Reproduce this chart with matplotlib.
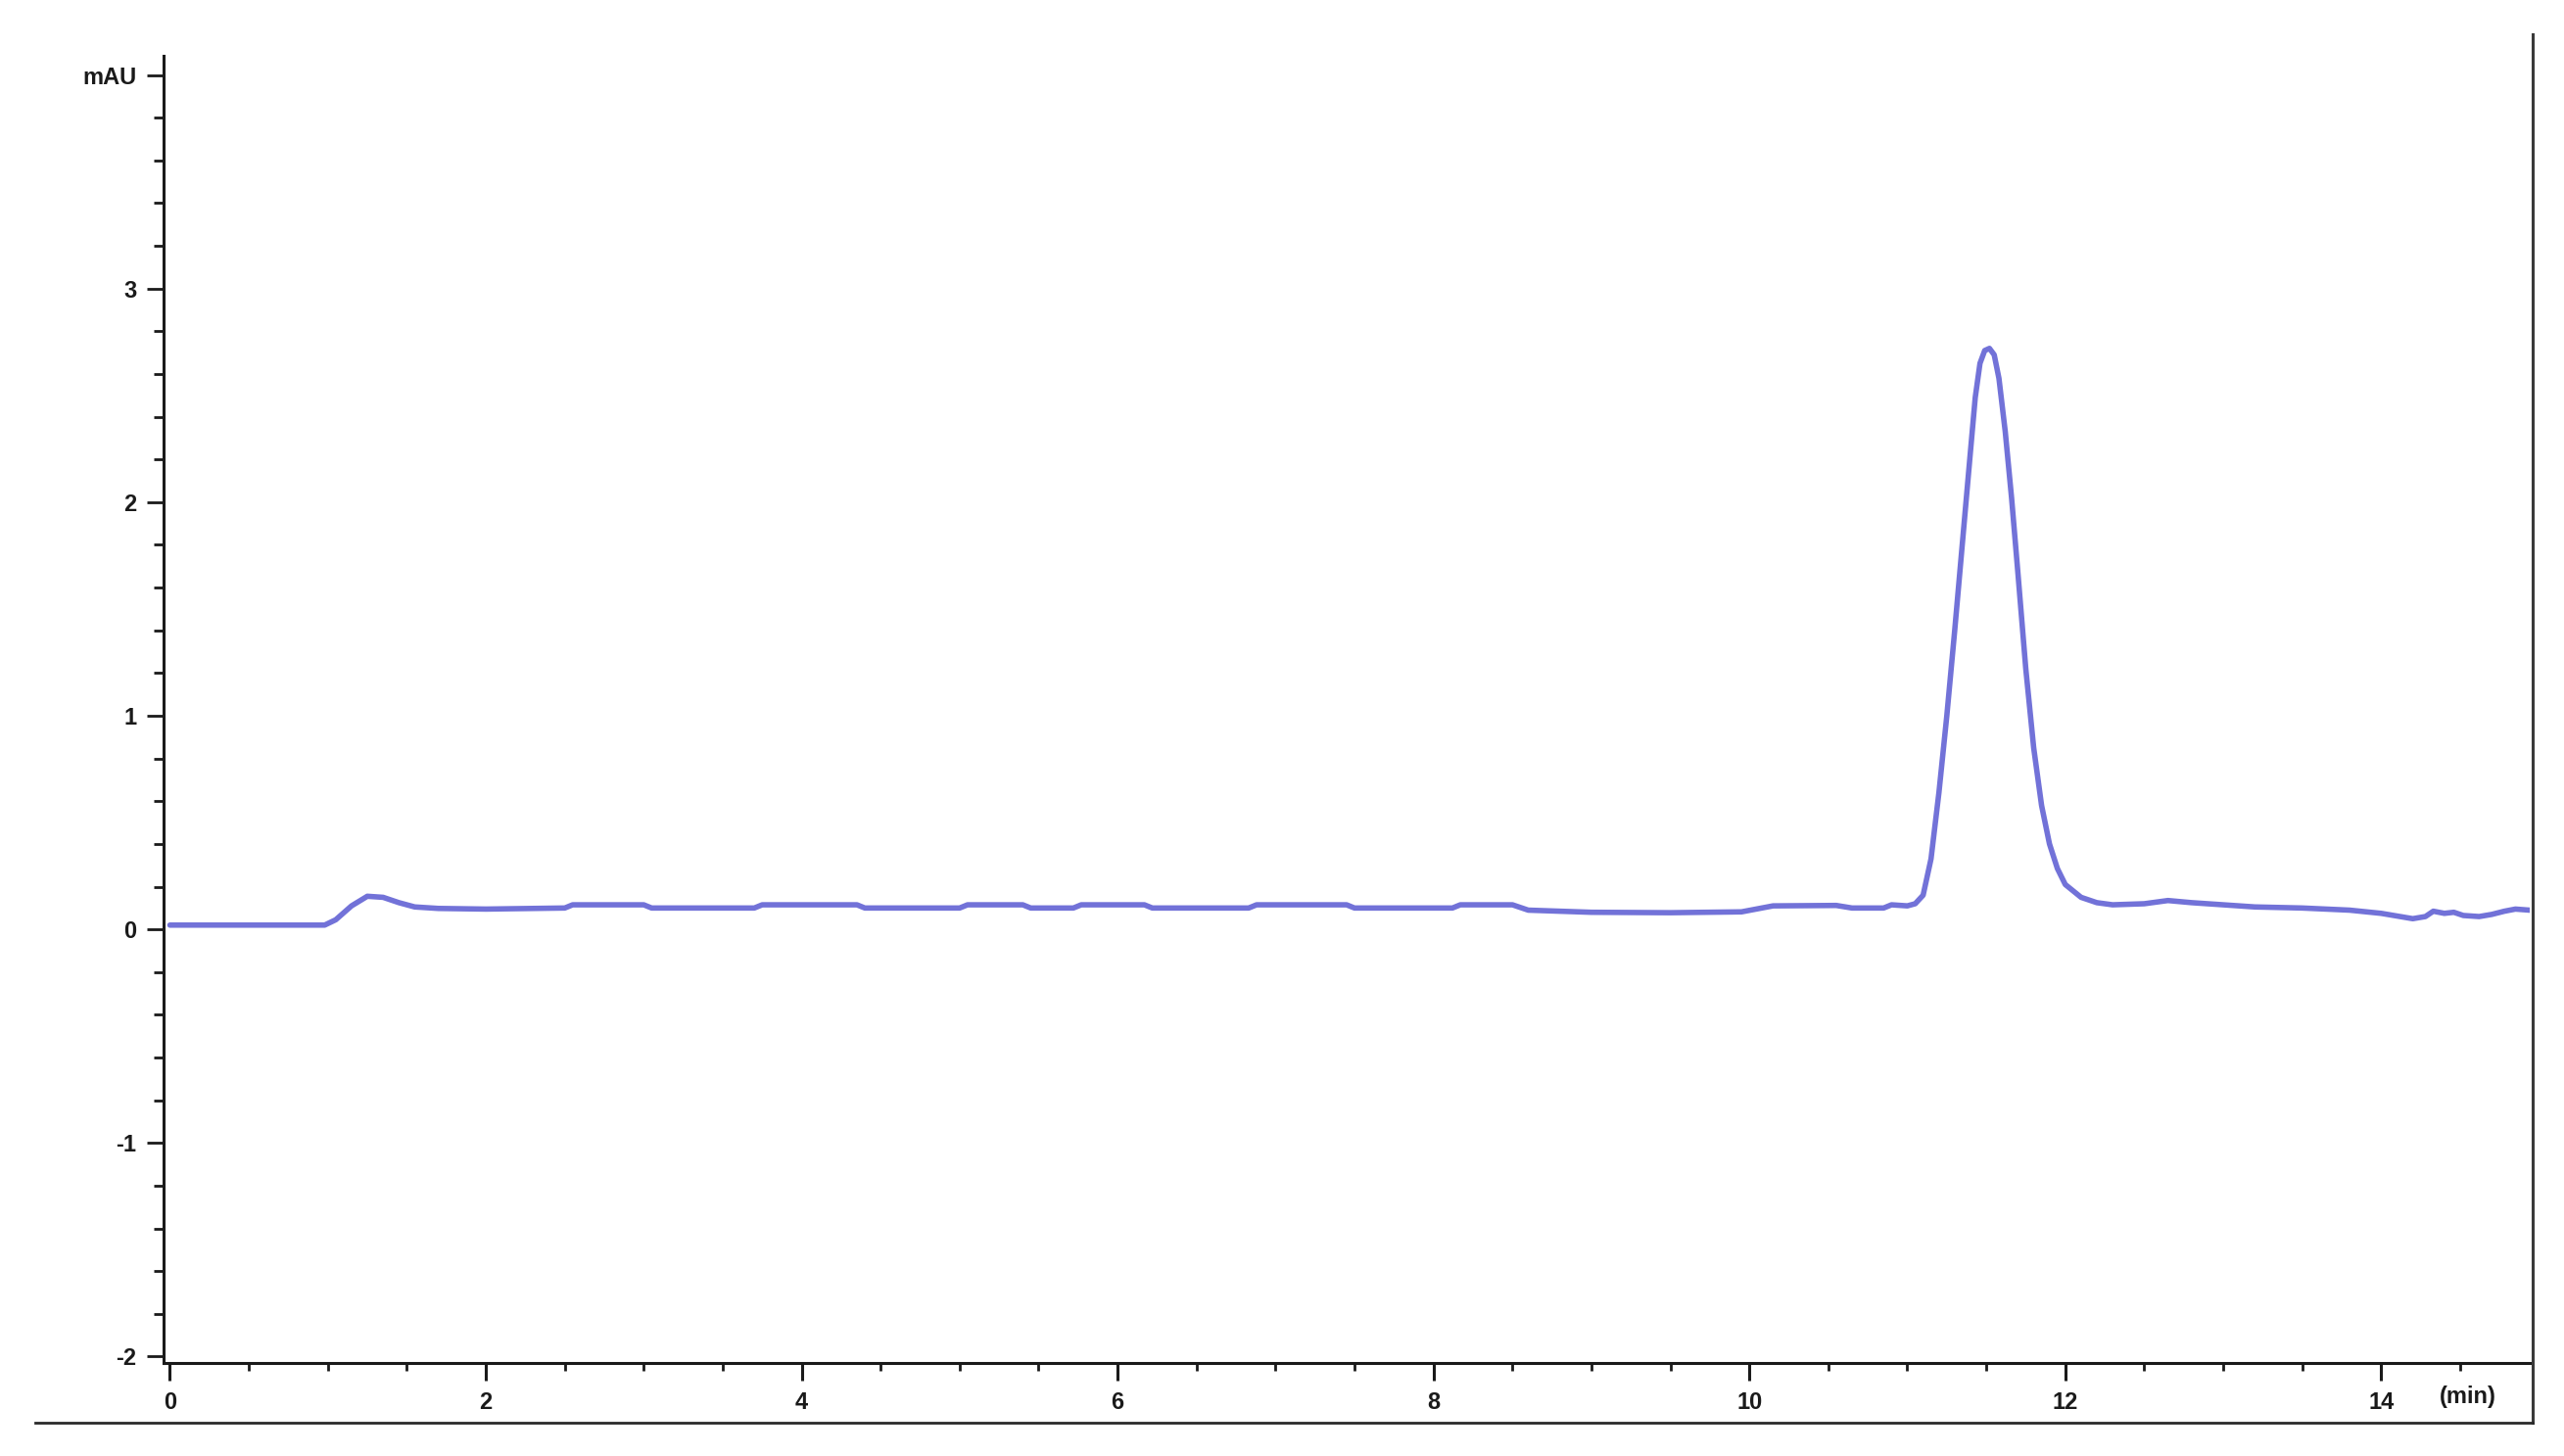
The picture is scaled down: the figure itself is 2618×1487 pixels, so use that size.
import matplotlib
matplotlib.use("Agg")
import matplotlib.pyplot as plt
from matplotlib.lines import Line2D
from matplotlib.ticker import MultipleLocator

# chromatogram trace (time in min, signal in mAU)
time_min = [0.00, 0.50, 0.98, 1.05, 1.15, 1.25, 1.35, 1.45, 1.55, 1.70, 2.00, 2.50,
            2.55, 3.00, 3.05, 3.70, 3.75, 4.35, 4.40, 5.00, 5.05, 5.40, 5.45, 5.72,
            5.77, 6.17, 6.22, 6.83, 6.88, 7.45, 7.50, 8.12, 8.17, 8.50, 8.60, 9.00,
            9.50, 9.95, 10.15, 10.55, 10.65, 10.85, 10.90, 11.00, 11.05, 11.10, 11.15,
            11.20, 11.25, 11.30, 11.35, 11.40, 11.43, 11.46, 11.49, 11.52, 11.55, 11.58,
            11.62, 11.66, 11.70, 11.75, 11.80, 11.85, 11.90, 11.95, 12.00, 12.10, 12.20,
            12.30, 12.50, 12.65, 12.80, 13.00, 13.20, 13.50, 13.80, 14.00, 14.20,
            14.28, 14.33, 14.40, 14.46, 14.52, 14.62, 14.70, 14.78, 14.85, 14.94]
signal_mau = [0.020, 0.020, 0.020, 0.045, 0.110, 0.155, 0.150, 0.125, 0.105, 0.098, 0.095, 0.100,
              0.115, 0.115, 0.100, 0.100, 0.115, 0.115, 0.100, 0.100, 0.115, 0.115, 0.100, 0.100,
              0.115, 0.115, 0.100, 0.100, 0.115, 0.115, 0.100, 0.100, 0.115, 0.115, 0.090, 0.080,
              0.078, 0.082, 0.110, 0.112, 0.100, 0.100, 0.115, 0.110, 0.120, 0.160, 0.330,
              0.640, 1.000, 1.400, 1.820, 2.240, 2.490, 2.650, 2.710, 2.720, 2.690, 2.580,
              2.330, 2.020, 1.670, 1.220, 0.850, 0.580, 0.400, 0.285, 0.210, 0.150, 0.125,
              0.115, 0.120, 0.135, 0.125, 0.115, 0.105, 0.100, 0.090, 0.075, 0.050,
              0.060, 0.085, 0.075, 0.080, 0.065, 0.060, 0.070, 0.085, 0.095, 0.090]

x_major = [0, 2, 4, 6, 8, 10, 12, 14]
x_labels = ["0", "2", "4", "6", "8", "10", "12", "14"]
y_major = [-2, -1, 0, 1, 2, 3, 4]
y_labels = ["-2", "-1", "0", "1", "2", "3", "mAU"]

LINE = "#7272d8"
FRAME = "#1a1a1a"

plt.rcParams['font.family'] = ['Liberation Sans', 'DejaVu Sans']

fig = plt.figure(figsize=(26.18, 14.87), dpi=100)
ax = fig.add_axes([0.0638, 0.0639, 0.9228, 0.8978])

ax.plot(time_min, signal_mau, color=LINE, lw=4.0, solid_joinstyle='round',
        solid_capstyle='round', zorder=3)

ax.set_xlim(-0.04, 14.94)
ax.set_ylim(-2.03, 4.09)

for s in ('top', 'right'):
    ax.spines[s].set_visible(False)
for s in ('left', 'bottom'):
    ax.spines[s].set_color(FRAME)
    ax.spines[s].set_linewidth(2.2)

ax.set_xticks(x_major)
ax.set_xticklabels(x_labels, fontsize=17, fontweight='bold')
ax.set_yticks(y_major)
ax.set_yticklabels(y_labels, fontsize=17, fontweight='bold')
ax.xaxis.set_minor_locator(MultipleLocator(0.5))
ax.yaxis.set_minor_locator(MultipleLocator(0.2))
ax.tick_params(axis='x', which='major', direction='out', length=13, width=2.2, pad=8, colors=FRAME)
ax.tick_params(axis='x', which='minor', direction='out', length=6, width=2.0, colors=FRAME)
ax.tick_params(axis='y', which='major', direction='out', length=12, width=2.0, pad=8, colors=FRAME)
ax.tick_params(axis='y', which='minor', direction='out', length=7, width=2.0, colors=FRAME)

ax.text(14.55, -0.026, "(min)", transform=ax.get_xaxis_transform(), ha='center', va='center',
        fontsize=17, fontweight='bold', color=FRAME)

# outer frame pieces: right edge and bottom rule of the original printout
fig.add_artist(Line2D([2586 / 2618, 2586 / 2618], [1 - 35 / 1487, 1 - 1453 / 1487],
                      transform=fig.transFigure, color='#3a3a3a', lw=2.2))
fig.add_artist(Line2D([36 / 2618, 2586 / 2618], [1 - 1453 / 1487, 1 - 1453 / 1487],
                      transform=fig.transFigure, color='#2a2a2a', lw=2.0))

fig.savefig("out.png", dpi=100)
